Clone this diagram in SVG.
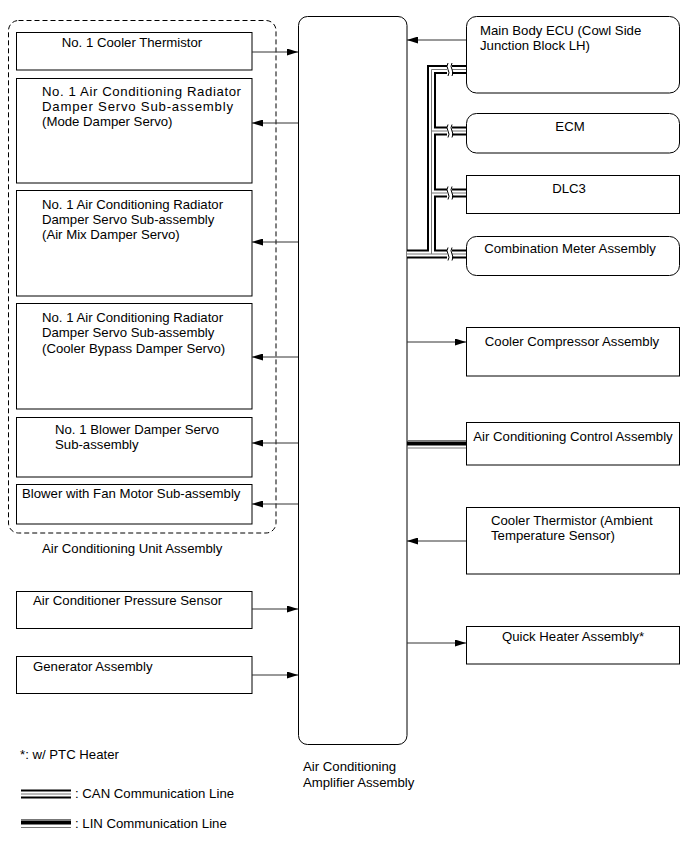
<svg xmlns="http://www.w3.org/2000/svg" width="691" height="855" viewBox="0 0 691 855">
<defs>
<style>
text{font-family:"Liberation Sans",Arial,sans-serif;font-size:13.2px;fill:#000}
.box{fill:#fff;stroke:#000;stroke-width:1}
.mid{text-anchor:middle}
.arr{stroke:#333;stroke-width:1;fill:none;marker-end:url(#ah)}
.canA{fill:none;stroke:#000;stroke-width:9}
.canB{fill:none;stroke:#fff;stroke-width:5}
.canC{fill:none;stroke:#777;stroke-width:1}
.brk{fill:none;stroke:#000;stroke-width:1}
</style>
<marker id="ah" markerUnits="userSpaceOnUse" markerWidth="11" markerHeight="7" refX="11" refY="3.5" orient="auto">
<path d="M0,0 L11,3.5 L0,7 z" fill="#000"/>
</marker>
</defs>
<rect width="691" height="855" fill="#fff"/>

<g id="unit-assembly">
<rect x="8.5" y="20.5" width="267.5" height="512.5" rx="10" fill="none" stroke="#000" stroke-dasharray="5,3"/>
<text x="42" y="553">Air Conditioning Unit Assembly</text>
</g>

<g id="amplifier">
<rect class="box" x="298.5" y="16.5" width="108.5" height="728" rx="9"/>
<text x="303" y="771">Air Conditioning</text>
<text x="303" y="787">Amplifier Assembly</text>
</g>

<g id="cooler-thermistor-1">
<rect class="box" x="16.5" y="32.5" width="235.5" height="37.5"/>
<text class="mid" x="132" y="47">No. 1 Cooler Thermistor</text>
</g>
<g id="mode-damper">
<rect class="box" x="16.5" y="78.5" width="235.5" height="104.5"/>
<text x="42" y="96" textLength="199" lengthAdjust="spacing">No. 1 Air Conditioning Radiator</text>
<text x="42" y="111" textLength="191" lengthAdjust="spacing">Damper Servo Sub-assembly</text>
<text x="42" y="126">(Mode Damper Servo)</text>
</g>
<g id="airmix-damper">
<rect class="box" x="16.5" y="190.5" width="235.5" height="105.5"/>
<text x="42" y="209">No. 1 Air Conditioning Radiator</text>
<text x="42" y="224">Damper Servo Sub-assembly</text>
<text x="42" y="239">(Air Mix Damper Servo)</text>
</g>
<g id="bypass-damper">
<rect class="box" x="16.5" y="303.5" width="235.5" height="105.5"/>
<text x="42" y="322">No. 1 Air Conditioning Radiator</text>
<text x="42" y="337">Damper Servo Sub-assembly</text>
<text x="42" y="353">(Cooler Bypass Damper Servo)</text>
</g>
<g id="blower-damper">
<rect class="box" x="16.5" y="417.5" width="235.5" height="59.5"/>
<text x="55" y="434">No. 1 Blower Damper Servo</text>
<text x="55" y="449">Sub-assembly</text>
</g>
<g id="blower-motor">
<rect class="box" x="16.5" y="484.5" width="235.5" height="39.5"/>
<text x="22" y="498">Blower with Fan Motor Sub-assembly</text>
</g>
<g id="pressure-sensor">
<rect class="box" x="16.5" y="591.5" width="235.5" height="37"/>
<text x="33" y="605">Air Conditioner Pressure Sensor</text>
</g>
<g id="generator">
<rect class="box" x="16.5" y="656.5" width="235.5" height="37"/>
<text x="33" y="671">Generator Assembly</text>
</g>

<g id="main-body-ecu">
<rect class="box" x="466.5" y="16.5" width="213" height="76.5" rx="10"/>
<text x="480" y="35">Main Body ECU (Cowl Side</text>
<text x="480" y="50">Junction Block LH)</text>
</g>
<g id="ecm">
<rect class="box" x="466.5" y="113.5" width="213" height="39.5" rx="10"/>
<text class="mid" x="570" y="131">ECM</text>
</g>
<g id="dlc3">
<rect class="box" x="466.5" y="175.5" width="213" height="38"/>
<text class="mid" x="569" y="193">DLC3</text>
</g>
<g id="combination-meter">
<rect class="box" x="466.5" y="236.5" width="213" height="39" rx="10"/>
<text class="mid" x="570" y="253">Combination Meter Assembly</text>
</g>
<g id="compressor">
<rect class="box" x="466.5" y="327.5" width="213" height="48.5"/>
<text class="mid" x="572" y="346">Cooler Compressor Assembly</text>
</g>
<g id="ac-control">
<rect class="box" x="466.5" y="422.5" width="213" height="42.5"/>
<text class="mid" x="573" y="441">Air Conditioning Control Assembly</text>
</g>
<g id="ambient-sensor">
<rect class="box" x="466.5" y="507.5" width="213" height="66.5"/>
<text x="491" y="525">Cooler Thermistor (Ambient</text>
<text x="491" y="540">Temperature Sensor)</text>
</g>
<g id="quick-heater">
<rect class="box" x="466.5" y="626.5" width="213" height="37.5"/>
<text class="mid" x="573" y="641">Quick Heater Assembly*</text>
</g>

<g id="connectors">
<line class="arr" x1="252" y1="52" x2="298" y2="52"/>
<line class="arr" x1="298" y1="123" x2="252" y2="123"/>
<line class="arr" x1="298" y1="242" x2="252" y2="242"/>
<line class="arr" x1="298" y1="357" x2="252" y2="357"/>
<line class="arr" x1="298" y1="443" x2="252" y2="443"/>
<line class="arr" x1="298" y1="504" x2="252" y2="504"/>
<line class="arr" x1="252" y1="609" x2="298" y2="609"/>
<line class="arr" x1="252" y1="675" x2="298" y2="675"/>
<line class="arr" x1="466" y1="40" x2="407" y2="40"/>
<line class="arr" x1="407" y1="342" x2="466" y2="342"/>
<line class="arr" x1="466" y1="541" x2="407" y2="541"/>
<line class="arr" x1="407" y1="643" x2="466" y2="643"/>

<g id="can-bus">
<path class="canA" d="M407,254 H466 M431.5,254 V69.5 H466 M431.5,131 H466 M431.5,193 H466"/>
<path class="canB" d="M407,254 H466 M431.5,254 V69.5 H466 M431.5,131 H466 M431.5,193 H466"/>
<path class="canC" d="M407,254 H466 M431.5,254 V69.5 H466 M431.5,131 H466 M431.5,193 H466"/>
<g fill="#fff">
<rect x="447" y="63" width="5" height="13"/>
<rect x="447" y="124.5" width="5" height="13"/>
<rect x="447" y="186.5" width="5" height="13"/>
<rect x="447" y="247.5" width="5" height="13"/>
</g>
<path class="brk" d="M448,63 q-2,3.25 0,6.5 q2,3.25 0,6.5 M452,63 q-2,3.25 0,6.5 q2,3.25 0,6.5"/>
<path class="brk" d="M448,124.5 q-2,3.25 0,6.5 q2,3.25 0,6.5 M452,124.5 q-2,3.25 0,6.5 q2,3.25 0,6.5"/>
<path class="brk" d="M448,186.5 q-2,3.25 0,6.5 q2,3.25 0,6.5 M452,186.5 q-2,3.25 0,6.5 q2,3.25 0,6.5"/>
<path class="brk" d="M448,247.5 q-2,3.25 0,6.5 q2,3.25 0,6.5 M452,247.5 q-2,3.25 0,6.5 q2,3.25 0,6.5"/>
</g>

<g id="lin-bus">
<line x1="407" y1="440.5" x2="466" y2="440.5" stroke="#777" stroke-width="1"/>
<rect x="407" y="441.5" width="59" height="4" fill="#000"/>
<line x1="407" y1="448" x2="466" y2="448" stroke="#777" stroke-width="1"/>
</g>
</g>

<g id="legend">
<text x="20" y="759">*: w/ PTC Heater</text>
<path class="canA" d="M21,794 H71"/>
<path class="canB" d="M21,794 H71"/>
<path class="canC" d="M21,794 H71"/>
<text x="75" y="798">: CAN Communication Line</text>
<line x1="21" y1="819.5" x2="71" y2="819.5" stroke="#777" stroke-width="1"/>
<rect x="21" y="820.5" width="50" height="4" fill="#000"/>
<line x1="21" y1="827.5" x2="71" y2="827.5" stroke="#777" stroke-width="1"/>
<text x="75" y="828">: LIN Communication Line</text>
</g>
</svg>
